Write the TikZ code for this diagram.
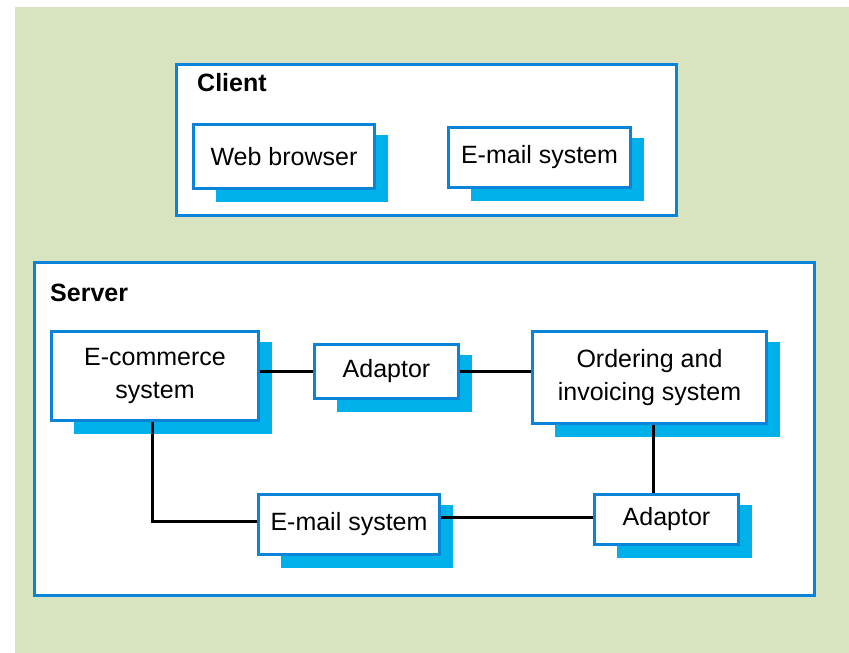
\documentclass[tikz,border=0pt]{standalone}
\usepackage{fontspec}
\setmainfont{Liberation Sans}
\definecolor{bggreen}{HTML}{D8E3C0}
\definecolor{boxblue}{HTML}{0A84D8}
\definecolor{shadowblue}{HTML}{00B0E8}
\pgfdeclarelayer{back}
\pgfdeclarelayer{shade}
\pgfsetlayers{back,shade,main}
\begin{document}
\begin{tikzpicture}[x=1pt,y=-1pt,
    group/.style={draw=boxblue,line width=3pt,fill=white,inner sep=0pt},
    sysbox/.style={draw=boxblue,line width=3pt,fill=white,inner sep=0pt,align=center,
      font=\fontsize{25}{33}\selectfont},
    title/.style={anchor=west,inner sep=0pt,font=\fontsize{25}{30}\selectfont\bfseries},
    link/.style={line width=3pt}]
      \useasboundingbox (0,0) rectangle (849,653);
      % client side
      \node[sysbox,minimum width=181pt,minimum height=64pt] (web) at (284,156.5) {Web browser};
      \node[sysbox,minimum width=182pt,minimum height=60pt] (cmail) at (539.5,157.5) {E-mail system};
      % server side
      \node[sysbox,minimum width=207pt,minimum height=89pt] (ecom) at (155,376) {E-commerce\\system};
      \node[sysbox,minimum width=144pt,minimum height=54pt] (adapt1) at (386.5,371.5) {Adaptor};
      \node[sysbox,minimum width=234pt,minimum height=92pt] (order) at (649.5,377.5) {Ordering and\\invoicing system};
      \node[sysbox,minimum width=144pt,minimum height=50pt] (adapt2) at (666.5,519.5) {Adaptor};
      \node[sysbox,minimum width=181pt,minimum height=60pt] (smail) at (349,524.5) {E-mail system};
      % shadows
      \begin{pgfonlayer}{shade}
        \foreach \n in {web,cmail,ecom,adapt1,order,adapt2,smail}
          \fill[shadowblue] ([xshift=23.5pt,yshift=-11.5pt]\n.north west)
            rectangle ([xshift=12pt,yshift=-12pt]\n.south east);
      \end{pgfonlayer}
      % groups
      \begin{pgfonlayer}{back}
        \fill[bggreen] (15,7) rectangle (849,653);
        \node[group,minimum width=500pt,minimum height=151pt] (client) at (426.5,140) {};
        \node[group,minimum width=780pt,minimum height=333pt] (server) at (424.5,429) {};
      \end{pgfonlayer}
      \node[title] (clientlabel) at (197,83) {Client};
      \node[title] (serverlabel) at (50,293) {Server};
      \begin{scope}[link]
        \draw (adapt1.west -| ecom.east) -- (adapt1.west);
        \draw (adapt1.east) -- (adapt1.east -| order.west);
        \draw ([xshift=3.5pt]order.south) -- ([xshift=3.5pt]order.south |- adapt2.north);
        \draw ([xshift=-3pt]ecom.south) |- ([yshift=3.5pt]smail.west);
        \draw ([yshift=7pt]smail.east) -- ([yshift=7pt]smail.east -| adapt2.west);
      \end{scope}
    \end{tikzpicture}
\end{document}
